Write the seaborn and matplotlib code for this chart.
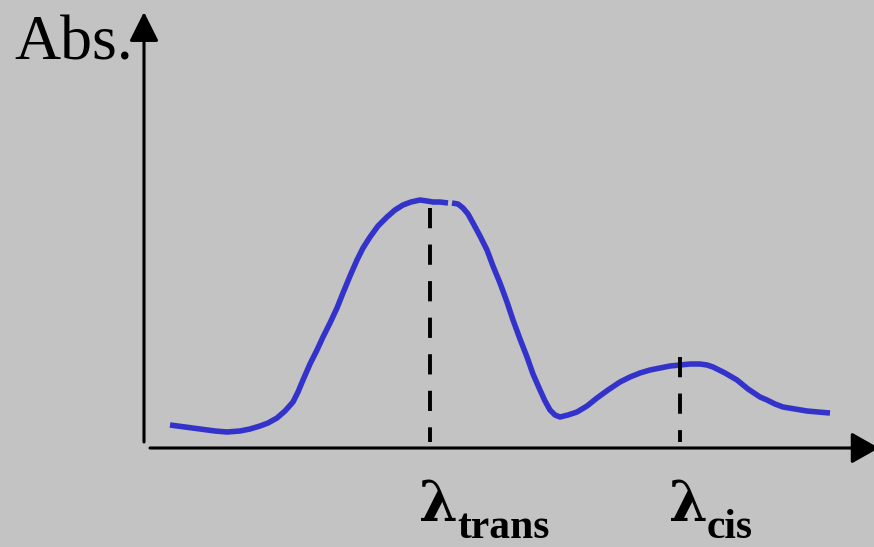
import matplotlib
matplotlib.use("Agg")
import numpy as np
import pandas as pd
import matplotlib.pyplot as plt
import seaborn as sns

# absorption spectrum (x position, absorbance above baseline)
wl_left = [170, 185, 200, 215, 227, 240, 250, 260, 268, 277, 285, 293, 298, 303, 310,
           317, 323, 330, 337, 343, 350, 357, 363, 370, 378, 387, 395, 403, 411, 420,
           427, 433, 440, 448]
abs_left = [23, 21, 19, 17, 16, 17, 19, 22, 25, 30, 37, 46, 56, 68, 84,
            98, 111, 125, 140, 155, 172, 188, 200, 211, 222, 231, 238, 243, 246, 248,
            247, 246, 246, 245]

wl_right = [452, 458, 463, 468, 473, 480, 487, 493, 500, 507, 513, 520, 527, 533, 540,
            545, 550, 555, 560, 568, 577, 587, 597, 608, 620, 630, 640, 650, 660, 670,
            680, 690, 700, 707, 713, 725, 737, 748, 760, 767, 775, 783, 795, 807, 818, 830]
abs_right = [245, 244, 240, 234, 225, 212, 198, 182, 165, 146, 128, 109, 91, 74, 58,
             47, 38, 33, 31, 33, 36, 42, 50, 58, 66, 71, 75, 78, 80, 82,
             83, 84, 84, 83, 81, 75, 68, 59, 51, 48, 44, 41, 39, 37, 36, 35]

# band positions (trans, cis) and the top of their dashed markers
band_x = [430, 680]
band_top = [240, 91]
band_names = ["trans", "cis"]

bg = "#c3c3c3"
blue = "#3333cc"

sns.set_theme(style="white", rc={"axes.facecolor": bg, "figure.facecolor": bg})
plt.rcParams['font.family'] = ['Liberation Serif', 'DejaVu Serif']

fig = plt.figure(figsize=(8.74, 5.47), dpi=100)
ax = fig.add_axes([0, 0, 1, 1])
ax.set_xlim(0, 874)
ax.set_ylim(-99, 448)
ax.axis("off")

left = pd.DataFrame({"wl": wl_left, "A": abs_left})
right = pd.DataFrame({"wl": wl_right, "A": abs_right})
for d in (left, right):
    sns.lineplot(data=d, x="wl", y="A", ax=ax, color=blue, lw=4.0,
                 sort=False, estimator=None, solid_capstyle="butt",
                 solid_joinstyle="round")

# dashed band markers
for bx, top in zip(band_x, band_top):
    ax.plot([bx, bx], [top, 6], color="black", lw=2.8, dashes=(5.2, 4.2))

# axes with arrows
ax.annotate("", xy=(879, 0), xytext=(150, 0), annotation_clip=False,
            arrowprops=dict(arrowstyle="-|>,head_length=0.85,head_width=0.48",
                            color="black", lw=2.2, shrinkA=0, shrinkB=0, mutation_scale=20))
ax.annotate("", xy=(144, 436), xytext=(144, 6), annotation_clip=False,
            arrowprops=dict(arrowstyle="-|>,head_length=0.9,head_width=0.45",
                            color="black", lw=2.2, shrinkA=0, shrinkB=0, mutation_scale=20))

ax.text(14, 388, "Abs.", fontsize=46, color="black", va="baseline", ha="left")

for bx, name in zip(band_x, band_names):
    ax.text(bx - 11, -73, "\u03bb", fontsize=40, fontweight="bold",
            family="DejaVu Serif", va="baseline", ha="left", color="black")
    ax.text(bx + 27, -90, name, fontsize=30, fontweight="bold",
            va="baseline", ha="left", color="black")

fig.savefig("out.png", dpi=100, facecolor=bg)
